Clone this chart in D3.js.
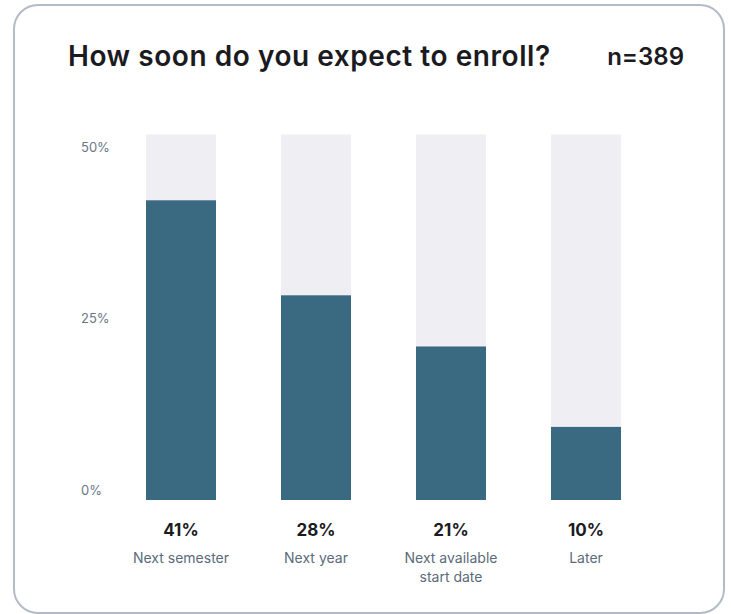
<!DOCTYPE html>
<html>
<head>
<meta charset="utf-8">
<script src="https://cdn.jsdelivr.net/npm/d3@7"></script>
<style>
  html, body { margin: 0; padding: 0; background: #ffffff; }
  svg { display: block; font-family: Inter, "Noto Sans", sans-serif; }
</style>
</head>
<body>
<svg id="chart" width="731" height="614"></svg>
<script>
// Survey answers: share of respondents (percent)
const categories = ["Next semester", "Next year", "Next available start date", "Later"];
const categoryLines = [["Next semester"], ["Next year"], ["Next available", "start date"], ["Later"]];
const values = [41, 28, 21, 10];
const tickValues = [0, 25, 50];
const title = "How soon do you expect to enroll?";
const sampleLabel = "n=389";

const svg = d3.select("#chart");

// Card frame
svg.append("rect")
  .attr("x", 14).attr("y", 5)
  .attr("width", 710).attr("height", 608)
  .attr("rx", 24).attr("ry", 24)
  .attr("fill", "#ffffff")
  .attr("stroke", "#b3bbc7")
  .attr("stroke-width", 2);

svg.append("text")
  .attr("x", 68).attr("y", 66)
  .attr("font-size", 28).attr("font-weight", 600)
  .attr("letter-spacing", 0.55)
  .attr("fill", "#1b1b1f")
  .text(title);

svg.append("text")
  .attr("x", 684).attr("y", 65)
  .attr("text-anchor", "end")
  .attr("font-size", 24).attr("font-weight", 600)
  .attr("fill", "#1b1b1f")
  .text(sampleLabel);

// Scales
const x = d3.scaleBand()
  .domain(categories)
  .range([113.5, 653.5])
  .paddingInner(0.4815)
  .paddingOuter(0.2407);

const y = d3.scaleLinear().domain([0, 50]).range([500, 134.5]);
// Tick labels sit inside the bar span, slightly inset from the ends
const yLabel = d3.scaleLinear().domain([0, 50]).range([490, 147]);

svg.append("g")
  .selectAll("text")
  .data(tickValues)
  .join("text")
  .attr("x", 81)
  .attr("y", d => yLabel(d))
  .attr("dy", "0.35em")
  .attr("font-size", 13)
  .attr("fill", "#6b7785")
  .text(d => d + "%");

const bars = svg.append("g")
  .selectAll("g")
  .data(categories.map((c, i) => ({ c, v: values[i], lines: categoryLines[i] })))
  .join("g");

// Track (full scale)
bars.append("rect")
  .attr("x", d => x(d.c))
  .attr("y", y(50))
  .attr("width", x.bandwidth())
  .attr("height", y(0) - y(50))
  .attr("fill", "#efeff3");

// Value bar
bars.append("rect")
  .attr("x", d => x(d.c))
  .attr("y", d => y(d.v))
  .attr("width", x.bandwidth())
  .attr("height", d => y(0) - y(d.v))
  .attr("fill", "#3a6982");

bars.append("text")
  .attr("x", d => x(d.c) + x.bandwidth() / 2)
  .attr("y", 530)
  .attr("dy", "0.35em")
  .attr("text-anchor", "middle")
  .attr("font-size", 17).attr("font-weight", 700)
  .attr("fill", "#1b1b1f")
  .text(d => d.v + "%");

bars.each(function(d) {
  d3.select(this).selectAll("text.cat")
    .data(d.lines)
    .join("text")
    .attr("class", "cat")
    .attr("x", x(d.c) + x.bandwidth() / 2)
    .attr("y", (l, i) => 558 + i * 19)
    .attr("dy", "0.35em")
    .attr("text-anchor", "middle")
    .attr("font-size", 14)
    .attr("fill", "#5b6b79")
    .text(l => l);
});
</script>
</body>
</html>
